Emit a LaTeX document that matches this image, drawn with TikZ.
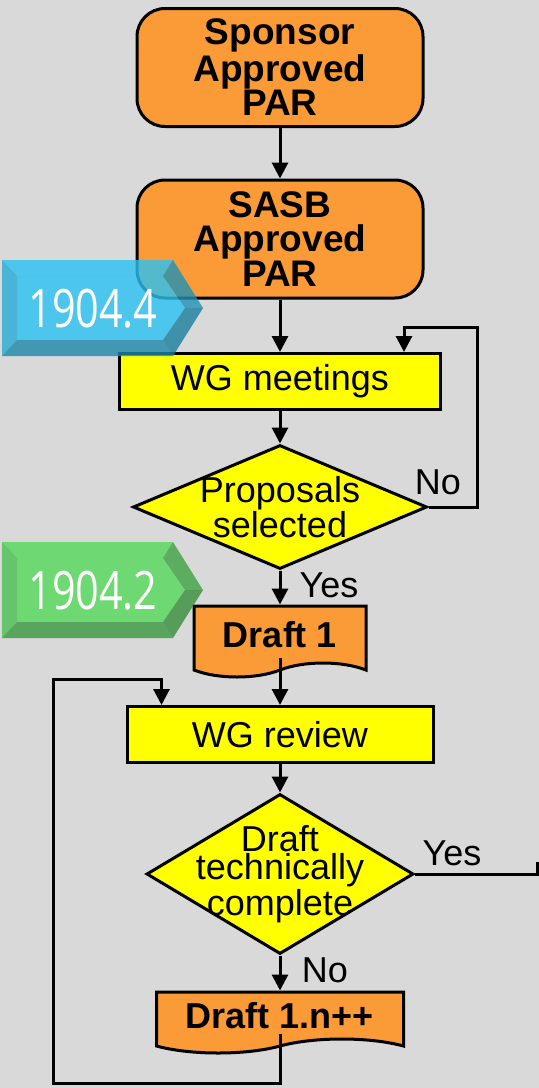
\documentclass[tikz,border=0pt]{standalone}
\usepackage{fontspec}
\setmainfont{Liberation Sans}
\newfontfamily\tagfont[FakeStretch=0.78]{Open Sans}
\usetikzlibrary{arrows.meta,shapes.geometric,shapes.symbols}
\definecolor{paper}{RGB}{217,217,217}
\definecolor{boxorange}{RGB}{250,155,55}
\definecolor{boxyellow}{RGB}{255,255,0}
\definecolor{tagblue}{RGB}{42,194,243}
\definecolor{taggreen}{RGB}{84,217,90}
% bevelled tag: name, centre y, colour, text
\newcommand{\drawtag}[4]{
\begin{scope}[shift={(0,#2)},fill opacity=0.8]
\fill[#3] (17,-32) -- (163,-32) -- (185,0) -- (163,32) -- (17,32) -- cycle;
\fill[#3] (2,-48) -- (173,-48) -- (163,-32) -- (17,-32) -- cycle;
\fill[#3!88!black] (2,-48) -- (17,-32) -- (17,32) -- (2,48) -- cycle;
\fill[#3!75!black] (173,-48) -- (203,0) -- (185,0) -- (163,-32) -- cycle;
\fill[#3!65!black] (203,0) -- (173,48) -- (163,32) -- (185,0) -- cycle;
\fill[#3!70!black] (2,48) -- (173,48) -- (163,32) -- (17,32) -- cycle;
\end{scope}
\node[tagtext] (#1) at (93,#2+1) {#4};}

\begin{document}
\begin{tikzpicture}[x=0.5pt,y=-0.5pt,line width=1.5pt,
  arr/.style={-{Triangle[length=8pt,width=8pt]}},
  parbox/.style={draw,fill=boxorange,rounded corners=14pt,minimum width=143pt,
    minimum height=59pt,align=center,font=\bfseries\fontsize{18.5}{17.2}\selectfont},
  taskbox/.style={draw,fill=boxyellow,minimum height=28pt,inner sep=0pt,
    font=\fontsize{18}{18}\selectfont},
  decision/.style={draw,fill=boxyellow,diamond,inner sep=-12pt,align=center,
    font=\fontsize{18}{13.5}\selectfont},
  draftbox/.style={draw,fill=boxorange,tape,tape bend top=none,
    tape bend bottom=in and out,tape bend height=7pt,inner sep=0pt,
    font=\bfseries\fontsize{18}{18}\selectfont},
  lbl/.style={font=\fontsize{18}{18}\selectfont,inner sep=0pt,anchor=base},
  tagtext/.style={font=\tagfont\fontsize{26.5}{26.5}\selectfont,text=white,inner sep=0pt}]
\useasboundingbox[fill=paper] (0,0) rectangle (539,1088);

\node[parbox] (spon) at (280,67.5) {Sponsor\\Approved\\PAR};
\node[parbox] (sasb) at (280,239) {SASB\\Approved\\PAR};
\node[taskbox,minimum width=160.5pt] (wg1) at (280,381.5) {WG meetings};
\node[decision,aspect=2.37,minimum width=147pt,minimum height=62pt] (d1) at (280,507) {Proposals\\selected};
\node[draftbox,minimum width=86pt,minimum height=35.5pt] (d3) at (280,634.5) {Draft 1};
\node[taskbox,minimum width=153pt] (wg2) at (280,734.5) {WG review};
\node[decision,aspect=1.67,minimum width=133.5pt,minimum height=80pt,
  font=\fontsize{18}{14}\selectfont] (d2) at (280,874) {Draft\\technically\\complete};
\node[draftbox,minimum width=123.5pt,minimum height=30.5pt] (d4) at (280,1015.5) {Draft 1.n++};

\draw[arr] (spon.south) -- (sasb.north);
\draw[arr] (sasb.south) -- (wg1.north);
\draw[arr] (wg1.south) -- (d1.north);
\draw[arr] (d1.south) -- (d3.north);
\draw[arr] ([yshift=3.5pt]d3.south) -- (wg2.north);
\draw[arr] (wg2.south) -- (d2.north);
\draw[arr] (d2.south) -- (d4.north);

% loops back
\coordinate (noturn) at (477,327);
\draw[arr] (d1.east) -| (noturn) -| ([xshift=-19pt]wg1.north east);
\coordinate (backlow) at (53,1083);
\coordinate (backtop) at (53,679);
\draw[arr] ([yshift=3.5pt]d4.south) |- (backlow) -- (backtop) -| ([xshift=18pt]wg2.north west);
\coordinate (yesout) at (537,862);
\draw (d2.east) -| (yesout);

\node[lbl] (no1) at (438,494) {No};
\node[lbl] (yes1) at (329,597) {Yes};
\node[lbl] (yes2) at (452,865) {Yes};
\node[lbl] (no2) at (325,982) {No};

\drawtag{tag4}{308}{tagblue}{1904.4}
\drawtag{tag2}{590}{taggreen}{1904.2}
\end{tikzpicture}
\end{document}
